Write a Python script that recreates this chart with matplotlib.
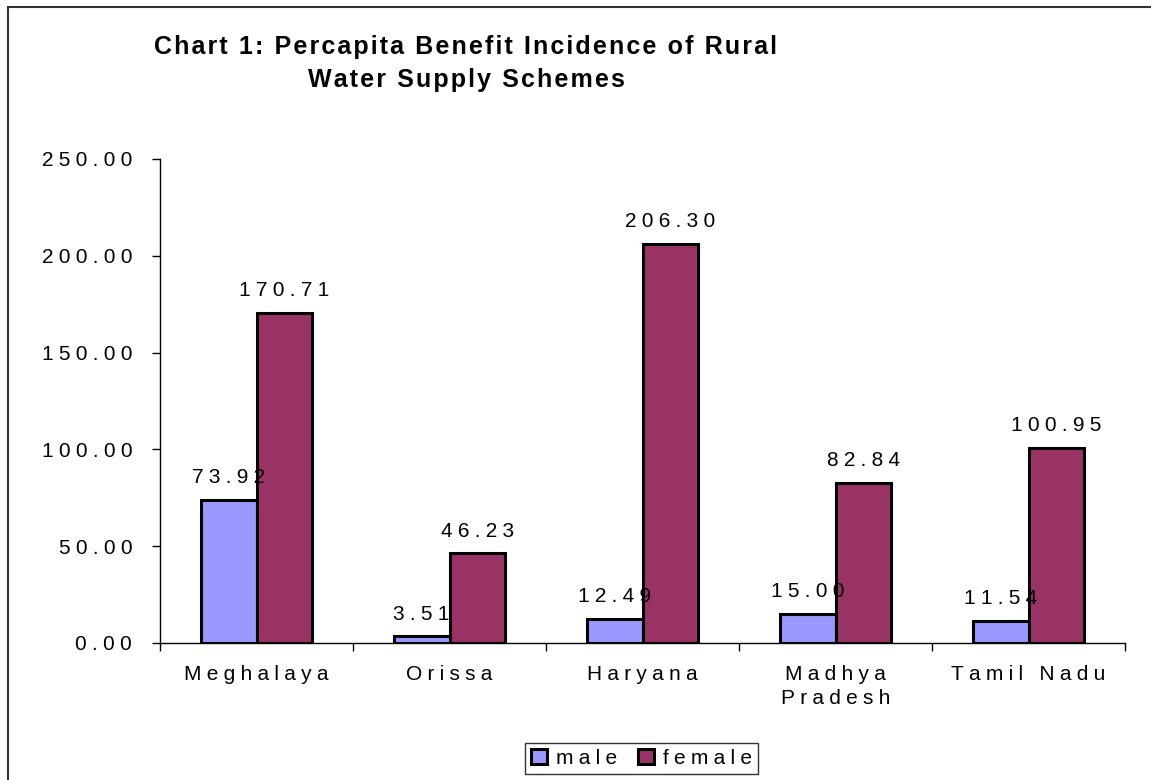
import matplotlib
matplotlib.use("Agg")
import matplotlib.pyplot as plt
import numpy as np
from matplotlib.patches import Patch, Rectangle

states = ["Meghalaya", "Orissa", "Haryana", "Madhya\nPradesh", "Tamil Nadu"]
male = [73.92, 3.51, 12.49, 15.00, 11.54]
female = [170.71, 46.23, 206.30, 82.84, 100.95]
yticks = [0, 50, 100, 150, 200, 250]

MALE_COLOR = "#9999FF"
FEMALE_COLOR = "#993366"
W, H = 1151, 780
FS = 15

plt.rcParams["font.family"] = ["Liberation Sans", "DejaVu Sans"]


def spaced(text, sep="\u2005"):
    # Excel-style expanded character spacing
    return "\n".join(sep.join(line) for line in text.split("\n"))


fig = plt.figure(figsize=(W / 100, H / 100), dpi=100)
fig.patches.append(Rectangle((8 / W, -0.1), 1.2, 1 - 7 / H + 0.1, transform=fig.transFigure,
                             fill=False, edgecolor="#333333", linewidth=1.5))

ax = fig.add_axes([160 / W, (H - 643) / H, (1125 - 160) / W, (643 - 159) / H])
x = np.arange(len(states))
bw = 0.29
bars_m = ax.bar(x - bw / 2, male, bw, color=MALE_COLOR, edgecolor="black", linewidth=2.2, zorder=2)
bars_f = ax.bar(x + bw / 2, female, bw, color=FEMALE_COLOR, edgecolor="black", linewidth=2.2, zorder=2)

for bars, vals in ((bars_m, male), (bars_f, female)):
    for b, v in zip(bars, vals):
        ax.annotate(spaced(f"{v:.2f}"), (b.get_x() + b.get_width() / 2, v),
                    xytext=(0, 12), textcoords="offset points", ha="center", va="baseline",
                    fontsize=FS, zorder=5)

ax.set_xlim(-0.5, len(states) - 0.5)
ax.set_ylim(0, 250)
ax.set_yticks(yticks)
ax.set_yticklabels([spaced(f"{t:.2f}") for t in yticks], fontsize=FS)
ax.set_xticks(np.arange(len(states) + 1) - 0.5)
ax.set_xticklabels([])
ax.set_xticks(x, minor=True)
ax.set_xticklabels([spaced(s) for s in states], minor=True, fontsize=FS)
for lab in ax.get_xticklabels(minor=True):
    lab.set_linespacing(1.35)
ax.tick_params(axis="x", which="major", length=6, width=1, direction="out")
ax.tick_params(axis="x", which="minor", length=0, pad=16)
ax.tick_params(axis="y", length=6, width=1, direction="out", pad=14)
for side in ("top", "right"):
    ax.spines[side].set_visible(False)
for side in ("left", "bottom"):
    ax.spines[side].set_linewidth(1)

fig.text(466 / W, 1 - 54 / H, spaced("Chart 1: Percapita Benefit Incidence of Rural", "\u200a"),
         ha="center", va="baseline", fontsize=18, fontweight="bold")
fig.text(466 / W, 1 - 87 / H, spaced("Water Supply Schemes", "\u200a"),
         ha="center", va="baseline", fontsize=18, fontweight="bold")

handles = [Patch(facecolor=MALE_COLOR, edgecolor="black", linewidth=2.2, label=spaced("male")),
           Patch(facecolor=FEMALE_COLOR, edgecolor="black", linewidth=2.2, label=spaced("female"))]
leg = fig.legend(handles=handles, loc="center", bbox_to_anchor=(641.5 / W, 1 - 758.5 / H), ncol=2,
                 fontsize=FS, frameon=True, fancybox=False, edgecolor="black",
                 handlelength=0.75, handleheight=0.75, handletextpad=0.45, columnspacing=1.0,
                 borderpad=0.3, borderaxespad=0)
leg.get_frame().set_linewidth(1)

fig.savefig("out.png", dpi=100)
